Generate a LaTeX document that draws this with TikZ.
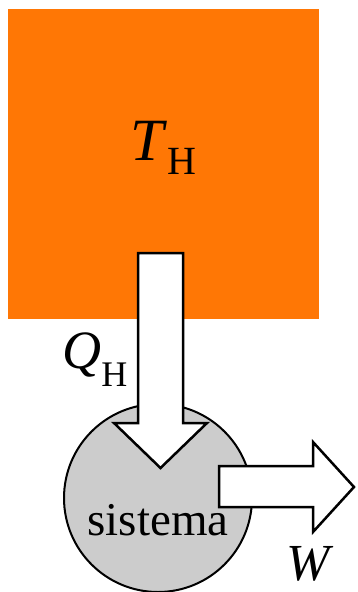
\documentclass[tikz,border=0pt]{standalone}
\usepackage{fontspec}
\setmainfont{Liberation Serif}
\usetikzlibrary{positioning}
\definecolor{hotorange}{HTML}{FF7705}
\definecolor{sysgray}{HTML}{CCCCCC}
\tikzset{
    reservoir/.style={fill=hotorange},
    system/.style={draw=black, line width=2pt, fill=sysgray},
    blockarrow/.style={draw=black, line width=2.5pt, fill=white, line join=miter},
    label/.style={inner sep=0pt, anchor=base}
}
\newcommand{\sizedtext}[2]{{\fontsize{#1}{#1}\selectfont #2}}
\newcommand{\lowsub}[3]{\raisebox{-#2pt}{\sizedtext{#1}{#3}}}

\begin{document}
\begin{tikzpicture}[x=1pt, y=-1pt]
    \useasboundingbox (0,0) rectangle (358,592);
    \fill[reservoir] (8,9) rectangle (319,319);
    \node[label] (hot) at (163,160) {\sizedtext{60}{\textit{T}}\lowsub{40}{14}{H}};
    \begin{scope}
        \clip (0,0) rectangle (358,592);
        \draw[system] (158,498) circle (94);
    \end{scope}
    \node[label] (sys) at (158,535) {\sizedtext{47}{sistema}};
    % heat in from the reservoir
    \draw[blockarrow] (138,253) -- (183,253) -- (183,423) -- (207,423)
        -- (160.5,468) -- (114,423) -- (138,423) -- cycle;
    \node[label] (heat) at (95,368) {\sizedtext{54}{\textit{Q}}\lowsub{36}{18}{H}};
    % work out of the system
    \draw[blockarrow] (219,466) -- (313,466) -- (313,442) -- (354,487)
        -- (313,532) -- (313,507) -- (219,507) -- cycle;
    \node[label] (work) at (310,580) {\sizedtext{52}{\textit{W}}};
\end{tikzpicture}
\end{document}
